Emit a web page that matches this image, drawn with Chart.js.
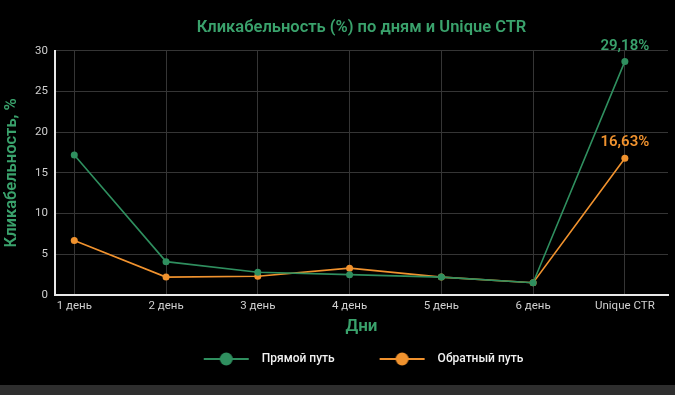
<!DOCTYPE html>
<html>
<head>
<meta charset="utf-8">
<script src="https://cdn.jsdelivr.net/npm/chart.js@4.4.1/dist/chart.umd.min.js"></script>
<style>
  html, body { margin: 0; padding: 0; background: #000; }
  #wrap { width: 675px; height: 385px; position: relative; }
  #strip { width: 675px; height: 10px; background: #2e2e2e; }
</style>
</head>
<body>
<div id="wrap"><canvas id="ctrChart" width="675" height="385"></canvas></div>
<div id="strip"></div>
<script>
// Data for the chart
const days = ['1 день', '2 день', '3 день', '4 день', '5 день', '6 день', 'Unique CTR'];
const directPath = [17.2, 4.1, 2.8, 2.5, 2.2, 1.5, 28.7];
const reversePath = [6.7, 2.2, 2.3, 3.3, 2.2, 1.5, 16.8];
// text printed above the Unique CTR points
const lastValueLabels = ['29,18%', '16,63%'];
const yTicks = [0, 5, 10, 15, 20, 25, 30];

const green = '#2f8f5f';
const greenText = '#3aa26c';
const orange = '#f0922e';

// legend marker: line with a dot, blank space on the left works as item gap
const GAP = 35;
function legendIcon(color) {
  const c = document.createElement('canvas');
  c.width = GAP + 45 + 7; c.height = 16;
  const g = c.getContext('2d');
  g.strokeStyle = color;
  g.lineWidth = 2;
  g.beginPath(); g.moveTo(GAP, 8); g.lineTo(GAP + 45, 8); g.stroke();
  g.fillStyle = color;
  g.beginPath(); g.arc(GAP + 22.5, 8, 6.5, 0, Math.PI * 2); g.fill();
  return c;
}

// labels above the last points
const lastLabels = {
  id: 'lastLabels',
  afterDatasetsDraw(chart) {
    const ctx = chart.ctx;
    ctx.save();
    ctx.font = '600 15px Roboto';
    ctx.textAlign = 'center';
    ctx.textBaseline = 'bottom';
    chart.data.datasets.forEach((ds, i) => {
      const meta = chart.getDatasetMeta(i);
      const p = meta.data[meta.data.length - 1];
      ctx.fillStyle = i === 0 ? greenText : orange;
      ctx.fillText(lastValueLabels[i], p.x, p.y - 8);
    });
    ctx.restore();
  }
};

// title and legend are centred on the plot area, not the canvas
const centerOnPlot = {
  id: 'centerOnPlot',
  afterLayout(chart) {
    const a = chart.chartArea;
    chart.titleBlock.left = a.left;
    chart.titleBlock.right = a.right;
    chart.legend.left = a.left - GAP / 2 + 2;
    chart.legend.right = a.right - GAP / 2 + 2;
  }
};

window.onload = function () {
  const ctx = document.getElementById('ctrChart').getContext('2d');

  new Chart(ctx, {
    type: 'line',
    data: {
      datasets: [{
        label: 'Прямой путь',
        data: directPath.map((v, i) => ({ x: i, y: v })),
        borderColor: green,
        backgroundColor: green,
        borderWidth: 1.6,
        pointRadius: 3.5,
        pointBackgroundColor: green,
        pointBorderWidth: 0,
        tension: 0
      }, {
        label: 'Обратный путь',
        data: reversePath.map((v, i) => ({ x: i, y: v })),
        borderColor: orange,
        backgroundColor: orange,
        borderWidth: 1.6,
        pointRadius: 3.5,
        pointBackgroundColor: orange,
        pointBorderWidth: 0,
        tension: 0
      }]
    },
    options: {
      responsive: false,
      animation: false,
      layout: { padding: { top: 10, right: 7, left: 0, bottom: 10 } },
      plugins: {
        title: {
          display: true,
          text: 'Кликабельность (%) по дням и Unique CTR',
          color: greenText,
          font: { family: 'Roboto', size: 16.5, weight: '600' },
          padding: { top: 8, bottom: 13 }
        },
        legend: {
          position: 'bottom',
          labels: {
            color: '#f2f2f2',
            font: { family: 'Roboto', size: 12, weight: '500' },
            usePointStyle: true,
            pointStyleWidth: GAP + 45 + 7,
            padding: 10,
            generateLabels(chart) {
              const items = Chart.defaults.plugins.legend.labels.generateLabels(chart);
              items.forEach(it => {
                it.pointStyle = legendIcon(it.datasetIndex === 0 ? green : orange);
              });
              return items;
            }
          }
        },
        tooltip: { enabled: false }
      },
      scales: {
        x: {
          type: 'linear',
          min: -0.21,
          max: 6.47,
          afterBuildTicks(axis) {
            axis.ticks = days.map((d, i) => ({ value: i }));
          },
          afterFit(axis) { axis.height = 48; },
          ticks: {
            color: '#d0d0d0',
            font: { family: 'Roboto', size: 11.5 },
            padding: 4,
            callback: v => days[v]
          },
          grid: { color: '#353535', lineWidth: 1, drawTicks: false },
          border: { color: '#e8e8e8', width: 2 },
          title: {
            display: true,
            text: 'Дни',
            color: greenText,
            font: { family: 'Roboto', size: 17, weight: '600' },
            padding: { top: 3, bottom: 6 }
          }
        },
        y: {
          min: 0,
          max: 30,
          afterBuildTicks(axis) {
            axis.ticks = yTicks.map(v => ({ value: v }));
          },
          afterFit(axis) { axis.width = 55; },
          ticks: {
            color: '#d0d0d0',
            font: { family: 'Roboto', size: 11.5 },
            padding: 7
          },
          grid: { color: '#353535', lineWidth: 1, drawTicks: false },
          border: { color: '#e8e8e8', width: 2 },
          title: {
            display: true,
            text: 'Кликабельность, %',
            color: greenText,
            font: { family: 'Roboto', size: 16.5, weight: '600' },
            padding: { top: 2, bottom: 0 }
          }
        }
      }
    },
    plugins: [lastLabels, centerOnPlot]
  });
};
</script>
</body>
</html>
